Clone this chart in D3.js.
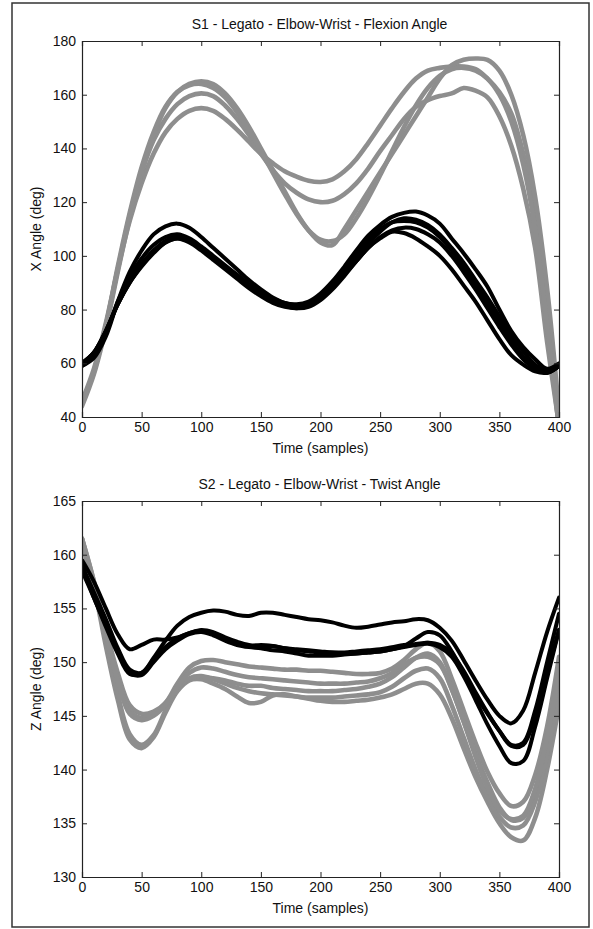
<!DOCTYPE html>
<html><head><meta charset="utf-8">
<script src="https://cdn.jsdelivr.net/npm/d3@7"></script>
<style>
html,body{margin:0;padding:0;background:#fff;}
svg text{font-family:"Liberation Sans",Arial,sans-serif;fill:#111;}
</style></head>
<body><svg id="fig" width="593" height="929"></svg>
<script>
// ---------- DATA ----------
const samples = [0,10,20,30,40,50,60,70,80,90,100,110,120,130,140,150,160,170,180,190,200,210,220,230,240,250,260,270,280,290,300,310,320,330,340,350,360,370,380,390,400];

// Chart 1: S1 flexion angle (gray series)
const flexGrayA = [46,58,75,95,113,127,138,146,151,154,155,154,151,147,142.5,138,134.5,131.5,129.5,128,127.5,128.5,131.5,136,142,148.5,155,161,166,169,170,170.5,170.5,169.5,166,161,153,138,116,78,36];
const flexGrayB = [45,57,74,95,115,131,143,151,156.5,159.5,160.5,159.5,156,151,145,138,132,127,123.5,121,120,120.5,123,127,132.5,139,145,151,155.5,158,159.5,160.5,162.5,161.5,159,152,141,125,103,68,37];
const flexGrayC = [44,56,73,94,114,131,145,155,161,164,165,164,160.5,155,148,140,132,124,116,109.5,105,104,110,117,124,131,138,145,152,159,166,171,173,173.5,173,169,160,145,122,88,42];
const flexGrayD = [45,57,74,96,116,133,146,155.5,161,163.5,164,162.5,159,153.5,146.5,139,131,123,115.5,109.5,106,105.5,108,114,121.5,130,139,148,156,162.5,167,169.5,170,169,166,160,150,134,110,74,36];
// Chart 1: black series
const flexBlackA = [59,62,70,83,94,102,108,111,112,110.5,107,103,99,95,91,87.5,84.5,82.5,82,83,86,90.5,96,102,107.5,111.5,114.5,116,116.5,115,112,106.5,101,95,88.5,80,72,66,61.5,58,60];
const flexBlackB = [60,64,72,82,90,96.5,101.5,105,106.5,105.5,102.5,99,95.5,92,88.5,85.5,83,81.5,81,82,84.5,88.5,93.5,99,104.5,109,112.5,114,113.5,111.5,108,103,97.5,91,84.5,77.5,70.5,64.5,59.5,57,59];
const flexBlackC = [60,64,72,82,90,96,101,105,106.5,105,102,98.5,95,91.5,88,85,82.5,81,80.5,81.5,84,88,93,98,103,106.5,109,108.5,106.5,103.5,100,95,89,83,76,69,63,59.5,57,56.5,59];
const flexBlackD = [59,63,71,83,92,99,104,107,108,106.5,103.5,100,96.5,93,89.5,86.5,84,82.5,81.5,82.5,85,89,94.5,100.5,106,110,112.5,113,112.5,110.5,107,102,96,89.5,82.5,75.5,68.5,62.5,58.5,56.5,59];
const flexBlackE = [60,64,72,82,90.5,97,102,105.5,107,106,103,99.5,96,92.5,89,86,83.5,81.5,80.5,81,83.5,87.5,92.5,98,103,107,109.5,110.5,110,108,105,100,94,87.5,80.5,73.5,67,61.5,58,56.5,59];

// Chart 2: S2 twist angle (gray series)
const twistGrayA = [161.5,157.5,153,149,146,145.2,145.4,146.2,148,149.5,150.1,150.2,150,149.8,149.6,149.5,149.4,149.3,149.3,149.2,149.2,149.1,149,148.9,148.9,149,149.4,150.2,151.2,151.8,151,148.5,145.5,142.5,139.8,137.8,136.6,137,139.5,144,150.5];
const twistGrayB = [161.5,157,152.5,148.5,145.5,144.8,145.2,146.2,147.5,148.4,148.6,148.5,148.3,148,147.8,147.8,147.6,147.5,147.4,147.3,147.3,147.3,147.4,147.5,147.7,148,148.6,149.5,150.4,150.8,150,147.5,144.5,141.5,138.8,136.5,135.3,135.5,138,142.5,148];
const twistGrayC = [161,157,151.5,146.5,142.8,142,143,145.3,147.3,148.3,148.4,148,147.5,146.8,146.2,146.3,146.9,147,146.8,146.6,146.4,146.3,146.3,146.4,146.5,146.7,147,147.5,148,148,147,144.8,142,139.3,137,135,133.7,133.4,135.5,140,146];
const twistGrayD = [161.5,157.5,152,147,143.3,142.3,143.2,145.5,147.5,148.5,148.7,148.4,148,147.6,147.3,147.1,147,146.9,146.8,146.7,146.7,146.7,146.8,146.9,147,147.2,147.7,148.5,149.2,149.4,148.5,146,143,140,137.5,135.6,134.6,134.8,137,141.5,147];
const twistGrayE = [161,157,152.5,148.2,145.2,144.6,145,146,147.7,149,149.5,149.4,149.1,148.8,148.6,148.5,148.4,148.3,148.2,148.1,148,148,148,148.1,148.2,148.5,149,149.8,150.4,150.5,149.8,147.5,144.5,141.2,138.3,136.2,135.4,135.7,138.2,143,149];
// Chart 2: black series
const twistBlackA = [159.5,157.5,155,152.6,151.2,151.6,152.1,152.1,152.3,152.7,153,152.8,152.3,151.9,151.6,151.5,151.5,151.3,151.1,151,150.9,150.9,150.8,150.8,150.9,151,151.2,151.5,152.2,152.8,152.5,151,149,147,145.2,143.6,142.2,142.3,145,149,153];
const twistBlackB = [159,156.5,154,151.3,149.3,149,150.4,152,153.4,154.2,154.6,154.8,154.7,154.4,154.3,154.6,154.6,154.4,154.2,154,153.9,153.7,153.4,153.2,153.3,153.5,153.7,153.8,154,153.9,153.2,152,150.2,148.3,146.5,145,144.3,145.5,149,152.8,156];
const twistBlackC = [159,156,153.5,151,149,148.8,150,151.2,152,152.6,152.8,152.5,152,151.6,151.4,151.3,151.1,151,150.8,150.6,150.6,150.6,150.7,150.8,150.9,151,151.2,151.4,151.6,151.7,151.4,150.5,148.7,146.5,144.2,142.2,140.6,140.8,144,148.5,153];
const twistBlackD = [158.5,156,153.3,150.8,148.9,149,150.2,151.4,152.2,152.7,152.9,152.6,152.1,151.8,151.5,151.6,151.5,151.3,151.2,151.1,151,150.9,150.9,151,151.1,151.2,151.4,151.6,151.7,151.8,151.6,150.8,149.2,147.2,145.3,143.6,142.3,142.5,145.5,150,154.5];

// Axis settings
const xTicks = [0,50,100,150,200,250,300,350,400];
const flexTicks = [40,60,80,100,120,140,160,180];
const twistTicks = [130,135,140,145,150,155,160,165];

const charts = [
  {title:"S1 - Legato - Elbow-Wrist - Flexion Angle", ylabel:"X Angle (deg)", xlabel:"Time (samples)",
   yDomain:[40,180], yTicks:flexTicks,
   gray:[flexGrayA,flexGrayB,flexGrayC,flexGrayD], black:[flexBlackA,flexBlackB,flexBlackC,flexBlackD,flexBlackE],
   box:{x0:82,x1:559,y0:41,y1:417}},
  {title:"S2 - Legato - Elbow-Wrist - Twist Angle", ylabel:"Z Angle (deg)", xlabel:"Time (samples)",
   yDomain:[130,165], yTicks:twistTicks,
   gray:[twistGrayA,twistGrayB,twistGrayC,twistGrayD,twistGrayE], black:[twistBlackA,twistBlackB,twistBlackC,twistBlackD],
   box:{x0:82,x1:559,y0:501,y1:877}}
];

// ---------- DRAW ----------
const svg = d3.select("#fig");
svg.append("rect").attr("x",12).attr("y",3).attr("width",577).attr("height",924)
  .attr("fill","#fff").attr("stroke","#333").attr("stroke-width",1.5);

charts.forEach((c,i)=>{
  const b=c.box;
  const x=d3.scaleLinear().domain([0,400]).range([b.x0,b.x1]);
  const y=d3.scaleLinear().domain(c.yDomain).range([b.y1,b.y0]);
  const g=svg.append("g");
  const cid="clip"+i;
  svg.append("defs").append("clipPath").attr("id",cid).append("rect")
    .attr("x",b.x0).attr("y",b.y0).attr("width",b.x1-b.x0).attr("height",b.y1-b.y0);
  g.append("rect").attr("x",b.x0).attr("y",b.y0).attr("width",b.x1-b.x0).attr("height",b.y1-b.y0).attr("fill","#fff");

  const line=d3.line().x((d,k)=>x(samples[k])).y(d=>y(d)).curve(d3.curveCatmullRom.alpha(0.5));
  const lines=g.append("g").attr("clip-path",`url(#${cid})`);
  c.gray.forEach(s=>lines.append("path").attr("d",line(s)).attr("fill","none")
    .attr("stroke","#8e8e8e").attr("stroke-width",4.6).attr("stroke-linejoin","round").attr("stroke-linecap","round"));
  c.black.forEach(s=>lines.append("path").attr("d",line(s)).attr("fill","none")
    .attr("stroke","#000").attr("stroke-width",4).attr("stroke-linejoin","round").attr("stroke-linecap","round"));

  // axes (MATLAB box style, inward ticks)
  const tl=5;
  const axB=g.append("g").attr("transform",`translate(0,${b.y1})`)
    .call(d3.axisBottom(x).tickValues(xTicks).tickSize(-tl).tickPadding(4).tickFormat(d3.format("d")));
  const axT=g.append("g").attr("transform",`translate(0,${b.y0})`)
    .call(d3.axisTop(x).tickValues(xTicks).tickSize(-tl).tickFormat(""));
  const axL=g.append("g").attr("transform",`translate(${b.x0},0)`)
    .call(d3.axisLeft(y).tickValues(c.yTicks).tickSize(-tl).tickPadding(6).tickFormat(d3.format("d")));
  const axR=g.append("g").attr("transform",`translate(${b.x1},0)`)
    .call(d3.axisRight(y).tickValues(c.yTicks).tickSize(-tl).tickFormat(""));
  [axB,axT,axL,axR].forEach(a=>{
    a.selectAll("path.domain").attr("stroke","#222").attr("stroke-width",1.2);
    a.selectAll("line").attr("stroke","#222").attr("stroke-width",1);
    a.selectAll("text").attr("font-size",14).attr("font-family","Liberation Sans, Arial, sans-serif").attr("fill","#111");
  });
  axB.selectAll("text").attr("dy","0.8em");

  g.append("text").attr("x",(b.x0+b.x1)/2-1).attr("y",b.y0-12).attr("text-anchor","middle")
    .attr("font-size",14).text(c.title);
  g.append("text").attr("x",(b.x0+b.x1)/2).attr("y",b.y1+36).attr("text-anchor","middle")
    .attr("font-size",14).text(c.xlabel);
  g.append("text").attr("transform",`translate(${b.x0-41},${(b.y0+b.y1)/2}) rotate(-90)`)
    .attr("text-anchor","middle").attr("font-size",14).text(c.ylabel);
});
</script></body></html>
